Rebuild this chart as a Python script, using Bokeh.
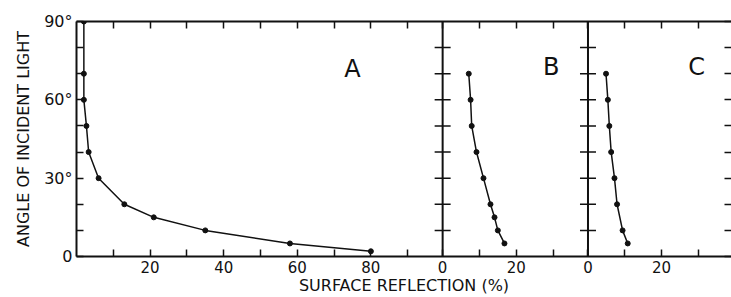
from bokeh.plotting import figure
from bokeh.models import LinearAxis, FixedTicker, Span, Range1d
from bokeh.embed import file_html
from bokeh.resources import INLINE
from bokeh.core.properties import value

# ---------------- data ----------------
panel_names = ["A", "B", "C"]
panel_widths = [99.5, 39.5, 39.0]          # x extent (%) of each panel

angle_A = [90, 70, 60, 50, 40, 30, 20, 15, 10, 5, 2]
refl_A = [2.0, 2.0, 2.0, 2.7, 3.3, 6.0, 13.0, 21.0, 35.0, 58.0, 80.0]

angle_B = [70, 60, 50, 40, 30, 20, 15, 10, 5]
refl_B = [7.1, 7.6, 7.9, 9.2, 11.1, 13.0, 14.1, 15.0, 16.8]

angle_C = [70, 60, 50, 40, 30, 20, 10, 5]
refl_C = [4.9, 5.4, 5.8, 6.3, 7.2, 7.9, 9.4, 10.8]

x_major = [[20, 40, 60, 80], [0, 20], [0, 20]]
x_minor = [[10, 30, 50, 70, 90], [10, 30], [10, 30]]
y_major = [0, 30, 60, 90]
y_major_labels = ["0", "30°", "60°", "90°"]
y_minor = [10, 20, 40, 50, 70, 80]

x_title = "SURFACE REFLECTION (%)"
y_title = "ANGLE OF INCIDENT LIGHT"

# ---------------- layout helpers ----------------
series = [(refl_A, angle_A), (refl_B, angle_B), (refl_C, angle_C)]
offsets = [sum(panel_widths[:i]) for i in range(len(panel_widths))]
x_end = sum(panel_widths)
label_pos = [(75, 72), (29.5, 72.5), (29.5, 72.5)]

FONT = "DejaVu Sans"
INK = "#111111"

p = figure(width=731, height=297,
           x_range=Range1d(0, x_end), y_range=Range1d(0, 90),
           output_backend="svg", toolbar_location=None,
           min_border_left=76, min_border_right=0,
           min_border_top=21, min_border_bottom=40)
p.background_fill_color = "white"
p.border_fill_color = "white"
p.outline_line_color = None
p.xgrid.visible = False
p.ygrid.visible = False

# x ticks (panel-local values mapped onto the shared axis)
xt_major, xt_minor, xt_over = [], [], {}
for off, majors, minors in zip(offsets, x_major, x_minor):
    for v in majors:
        t = float(off + v)
        xt_major.append(t)
        xt_over[t] = str(v)
    for v in minors:
        xt_minor.append(float(off + v))
x_ticker = FixedTicker(ticks=xt_major, minor_ticks=xt_minor)
x_ticker_plain = FixedTicker(ticks=[], minor_ticks=sorted(xt_major + xt_minor))
y_ticker = FixedTicker(ticks=y_major, minor_ticks=y_minor)
y_ticker_plain = FixedTicker(ticks=[], minor_ticks=sorted(y_major + y_minor))
y_over = {float(v): s for v, s in zip(y_major, y_major_labels)}


def style_axis(ax):
    ax.axis_line_width = 2
    ax.axis_line_color = INK
    ax.major_tick_in = 7
    ax.major_tick_out = 0
    ax.minor_tick_in = 7
    ax.minor_tick_out = 0
    ax.major_tick_line_width = 1.5
    ax.minor_tick_line_width = 1.5
    ax.major_tick_line_color = INK
    ax.minor_tick_line_color = INK
    ax.major_label_text_font = FONT
    ax.major_label_text_color = INK
    ax.major_label_text_font_size = "15px"
    ax.axis_label_text_font = FONT
    ax.axis_label_text_font_style = "normal"
    ax.axis_label_text_color = INK


bottom = p.xaxis[0]
bottom.ticker = x_ticker
bottom.major_label_overrides = xt_over
style_axis(bottom)
bottom.major_label_standoff = 4
bottom.axis_label = x_title
bottom.axis_label_text_font_size = "16px"
bottom.axis_label_standoff = 0

top = LinearAxis(ticker=x_ticker_plain)
style_axis(top)
top.major_label_standoff = 0
p.add_layout(top, "above")

left = p.yaxis[0]
left.ticker = y_ticker
left.major_label_overrides = y_over
style_axis(left)
left.major_label_text_font_size = "16px"
left.major_label_standoff = 4
left.axis_label = y_title
left.axis_label_text_font_size = "16px"
left.axis_label_standoff = 8

right = LinearAxis(ticker=y_ticker_plain)
style_axis(right)
right.axis_line_color = None
right.major_label_standoff = 0
p.add_layout(right, "right")

# panel separators with crossing ticks
sep_ticks = sorted(t for t in y_major + y_minor if 0 < t < 90)
for off in offsets[1:]:
    p.add_layout(Span(location=off, dimension="height", line_color=INK, line_width=2))
    p.scatter(x=[off] * len(sep_ticks), y=sep_ticks, marker="dash", size=16,
              line_color=INK, line_width=1.5)

# curves and points
for off, (xs, ys) in zip(offsets, series):
    xx = [off + v for v in xs]
    p.line(xx, ys, line_color=INK, line_width=1.5)
    p.scatter(xx, ys, size=5, fill_color=INK, line_color=INK)

# panel letters
p.text(x=[off + lp[0] for off, lp in zip(offsets, label_pos)],
       y=[lp[1] for lp in label_pos], text=panel_names,
       text_align="center", text_baseline="middle",
       text_font=value(FONT), text_font_size="24px", text_color=INK)

open("out.html", "w").write(file_html(p, INLINE))
